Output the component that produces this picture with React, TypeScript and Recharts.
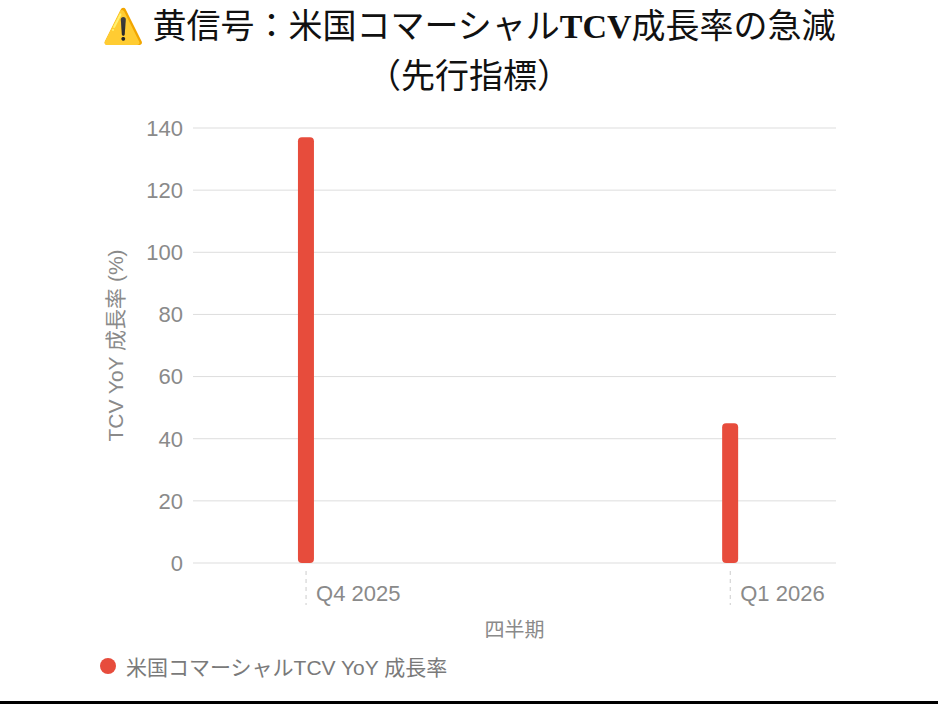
import React from 'react';
import { BarChart, Bar, XAxis, YAxis, CartesianGrid, Legend } from 'recharts';

const quarterLabels = ['Q4 2025', 'Q1 2026'];
const quarterIndex = [0, 1];
const tcvGrowth = [137, 45];
const yTicks = [0, 20, 40, 60, 80, 100, 120, 140];
const seriesName = '米国コマーシャルTCV YoY 成長率';

const data = quarterIndex.map((idx, i) => ({ idx, label: quarterLabels[i], growth: tcvGrowth[i] }));

const FONT = "'Liberation Sans', 'Noto Sans CJK JP', sans-serif";
const GRAY = '#8a8a8a';
const RED = '#e74c3c';

const XTick = (props: any) => {
  const { x, y, payload } = props;
  const i = quarterIndex.indexOf(payload.value);
  return (
    <g>
      <line x1={x} x2={x} y1={y} y2={y + 34} stroke="#cccccc" strokeDasharray="4 4" />
      <text x={x + 10} y={y + 30} textAnchor="start" fill={GRAY} fontSize={22} fontFamily={FONT}>
        {quarterLabels[i]}
      </text>
    </g>
  );
};

const LegendContent = () => (
  <div style={{ display: 'flex', alignItems: 'center', fontFamily: FONT, fontSize: 21, color: '#7a7a7a', whiteSpace: 'nowrap' }}>
    <svg width={18} height={18} style={{ marginRight: 9 }}>
      <circle cx={9} cy={9} r={8} fill={RED} />
    </svg>
    <span>{seriesName}</span>
  </div>
);

export default function App() {
  return (
    <div style={{ position: 'absolute', left: 0, top: 0, width: 938, height: 704, background: '#fff', overflow: 'hidden' }}>
      <div
        style={{
          position: 'absolute',
          left: 0,
          top: 0,
          width: 938,
          textAlign: 'center',
          fontFamily: "'Noto Sans CJK JP', sans-serif",
          fontSize: 34,
          fontWeight: 400,
          lineHeight: '47px',
          color: '#111',
        }}
      >
        <div>
          <span style={{ color: '#f2b705', marginRight: 8 }}>⚠️</span>黄信号：米国コマーシャル
          <span style={{ fontFamily: "'Liberation Serif', serif", fontWeight: 700 }}>TCV</span>成長率の急減
        </div>
        <div>（先行指標）</div>
      </div>
      <div style={{ position: 'absolute', left: 0, top: 0 }}>
        <BarChart width={938} height={704} data={data} margin={{ top: 128, right: 102, bottom: 61, left: 113 }}>
          <CartesianGrid vertical={false} stroke="#dddddd" />
          <XAxis
            dataKey="idx"
            type="number"
            domain={[-0.2665, 1.2493]}
            allowDataOverflow
            ticks={quarterIndex}
            axisLine={false}
            tickLine={false}
            tick={<XTick />}
            height={80}
            label={{ value: '四半期', position: 'insideBottom', offset: 6, fill: GRAY, fontSize: 20, fontFamily: FONT }}
          />
          <YAxis
            domain={[0, 140]}
            ticks={yTicks}
            width={80}
            axisLine={false}
            tickLine={false}
            tickMargin={4}
            tick={{ fill: GRAY, fontSize: 22, fontFamily: FONT }}
            label={{
              value: 'TCV YoY 成長率 (%)',
              angle: -90,
              position: 'insideLeft',
              offset: 3,
              fill: GRAY,
              fontSize: 21,
              fontFamily: FONT,
              style: { textAnchor: 'middle' },
            }}
          />
          <Legend
            layout="vertical"
            align="center"
            verticalAlign="middle"
            content={<LegendContent />}
            wrapperStyle={{ left: 99, top: 651, width: 'auto', height: 'auto' }}
          />
          <Bar dataKey="growth" name={seriesName} fill={RED} barSize={16} radius={4} isAnimationActive={false} />
        </BarChart>
      </div>
      <div style={{ position: 'absolute', left: 0, top: 701, width: 938, height: 3, background: '#000' }} />
    </div>
  );
}
